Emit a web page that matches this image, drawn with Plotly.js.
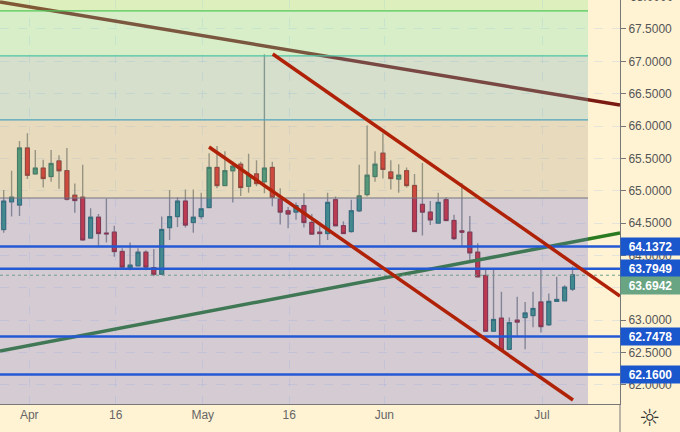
<!DOCTYPE html>
<html>
<head>
<meta charset="utf-8">
<script src="https://cdn.plot.ly/plotly-3.0.1.min.js"></script>
<style>html,body{margin:0;padding:0;background:#fff3d4;overflow:hidden}#c{width:680px;height:432px}</style>
</head>
<body>
<div id="c"></div>
<script>
var idx = [];
var open_ = [64.40,64.83,64.78,65.66,65.26,65.35,65.22,65.46,65.31,64.93,64.90,64.27,64.59,64.345,64.36,64.06,63.81,63.84,64.05,63.81,63.71,64.43,64.60,64.84,64.51,64.60,
64.74,65.36,65.08,65.31,65.41,65.07,65.26,65.14,65.36,64.87,64.69,64.67,64.77,64.51,64.36,64.34,64.86,64.46,64.37,64.69,64.94,65.22,65.58,65.29,65.18,65.31,65.08,
64.79,64.67,64.50,64.86,64.54,64.38,64.36,64.05,63.69,62.83,63.03,62.55,63.00,63.04,63.07,63.28,62.93,63.29,63.30,63.48];
var close_ = [64.84,64.90,65.66,65.24,65.35,65.19,65.42,65.31,64.87,64.85,64.24,64.59,64.34,64.335,64.06,63.82,63.85,64.05,63.82,63.71,64.40,64.60,64.84,64.47,64.59,64.72,
65.36,65.08,65.31,65.38,65.05,65.24,65.11,65.35,64.90,64.67,64.64,64.77,64.51,64.33,64.34,64.82,64.46,64.34,64.69,64.92,65.24,65.41,65.33,65.19,65.24,65.08,64.37,
64.67,64.55,64.82,64.54,64.26,64.36,64.04,63.67,62.83,63.01,62.54,62.96,62.97,63.11,63.18,62.90,63.29,63.32,63.51,63.70];
var high_ = [65.01,65.31,65.77,65.89,65.63,65.48,65.63,65.55,65.66,65.11,65.40,64.73,64.64,64.88,64.46,64.11,64.20,64.11,64.08,64.10,64.60,65.01,64.90,65.02,65.02,64.97,
65.58,65.69,65.61,65.45,65.45,65.57,65.47,67.11,65.45,65.04,64.75,64.82,64.96,64.64,64.45,64.97,64.91,64.53,64.86,65.40,66.01,65.61,65.89,65.47,65.41,65.36,65.26,
65.43,64.84,64.97,64.90,64.63,65.12,64.61,64.19,63.80,63.80,63.44,63.04,63.36,63.28,63.44,63.80,63.41,63.67,63.54,63.83];
var low_ = [64.35,64.60,64.61,65.18,65.26,65.05,65.14,65.03,64.85,64.66,64.24,64.27,64.15,64.20,63.98,63.82,63.77,63.83,63.77,63.68,63.70,64.24,64.44,64.43,64.35,64.56,
64.73,65.04,65.07,64.82,64.92,64.97,65.07,64.96,64.76,64.48,64.42,64.55,64.43,64.32,64.16,64.24,64.45,64.33,64.35,64.67,64.91,65.14,65.19,65.02,64.97,65.05,64.37,
64.31,64.47,64.50,64.53,64.24,64.15,63.93,63.66,62.82,62.82,62.54,62.54,62.74,62.55,62.89,62.81,62.91,63.29,63.29,63.45];
for (var n = 0; n < open_.length; n++) idx.push(n);

var tickPos = [3.24,14.18,25.19,36.15,48.18,68.14];
var tickText = ['Apr','16','May','16','Jun','Jul'];

var xLeft = -0.468, xRight = 78.01, zoneEnd = 73.96;
var yBottom = 61.704, yTop = 67.948;

var zoneLevels = [67.948,67.78,67.083,66.094,64.888,61.704];
var zoneFills = ['rgba(145,233,139,.3)','rgba(125,230,172,.3)','rgba(118,180,185,.3)','rgba(178,166,135,.3)','rgba(115,117,209,.3)'];
var zoneEdgeLevels = [67.78,67.083,66.094,64.888];
var zoneEdgeColors = ['#50c858','#4cc4a4','#4ea4bc','#747480'];

var priceLevels = [64.1372,63.7949,62.7478,62.16];
var priceLabels = ['64.1372','63.7949','62.7478','62.1600'];
var lastPrice = 63.6942;

var brownX = [-0.468,78.01], brownY = [67.917,66.325];
var greenX = [-0.468,78.01], greenY = [62.523,64.347];
var redUpperX = [34.05,78.01], redUpperY = [67.114,63.373];
var redLowerX = [25.99,72.06], redLowerY = [65.676,61.766];

var bodyHigh = open_.map(function(o,i){return Math.max(o,close_[i]);});
var bodyLow = open_.map(function(o,i){return Math.min(o,close_[i]);});

var wickStyle = {line:{color:'#8c8c80',width:1.4},fillcolor:'#8c8c80'};
var traces = [
  {type:'candlestick',x:idx,open:open_,close:close_,high:high_,low:low_,whiskerwidth:0,width:0.1,
   increasing:wickStyle,decreasing:wickStyle,hoverinfo:'skip'},
  {type:'candlestick',x:idx,open:open_,close:close_,high:bodyHigh,low:bodyLow,whiskerwidth:0,width:0.76,
   increasing:{line:{color:'#146a5c',width:1},fillcolor:'rgb(46,148,115)'},
   decreasing:{line:{color:'#8c1c1c',width:1},fillcolor:'rgb(220,35,30)'},hoverinfo:'skip'},
  {type:'scatter',mode:'lines',x:brownX,y:brownY,line:{color:'#7a1a10',width:3.5},hoverinfo:'skip'},
  {type:'scatter',mode:'lines',x:greenX,y:greenY,line:{color:'#2a7a20',width:3.5},hoverinfo:'skip'}
];

var shapes = [];
zoneFills.forEach(function(f,i){
  shapes.push({type:'rect',layer:'above',xref:'x',yref:'y',x0:xLeft,x1:zoneEnd,y0:zoneLevels[i+1],y1:zoneLevels[i],fillcolor:f,line:{width:0}});
});
zoneEdgeLevels.forEach(function(v,i){
  shapes.push({type:'line',layer:'above',xref:'x',yref:'y',x0:xLeft,x1:zoneEnd,y0:v,y1:v,line:{color:zoneEdgeColors[i],width:1.2}});
});
shapes.push({type:'line',layer:'above',xref:'x',yref:'y',x0:xLeft,x1:xRight,y0:lastPrice,y1:lastPrice,line:{color:'#6f9f8c',width:1,dash:'dot'}});
priceLevels.forEach(function(v){
  shapes.push({type:'line',layer:'above',xref:'x',yref:'y',x0:xLeft,x1:xRight,y0:v,y1:v,line:{color:'#2459d4',width:2.4}});
});
shapes.push({type:'line',layer:'above',xref:'x',yref:'y',x0:redUpperX[0],x1:redUpperX[1],y0:redUpperY[0],y1:redUpperY[1],line:{color:'#b02208',width:3.5}});
shapes.push({type:'line',layer:'above',xref:'x',yref:'y',x0:redLowerX[0],x1:redLowerX[1],y0:redLowerY[0],y1:redLowerY[1],line:{color:'#b02208',width:3.5}});
shapes.push({type:'line',xref:'paper',yref:'paper',x0:1,x1:1,y0:0,y1:-28/404,line:{color:'#777',width:1}});

var annos = [];
priceLevels.forEach(function(v,i){
  annos.push({xref:'paper',yref:'y',x:1,y:v,xanchor:'left',yanchor:'middle',xshift:0,showarrow:false,
    text:priceLabels[i],width:57,height:15,borderpad:1,bgcolor:'#1a56cc',align:'center',
    font:{family:'Liberation Sans',size:12,color:'#fff',weight:'bold'}});
});
annos.push({xref:'paper',yref:'y',x:1,y:lastPrice,xanchor:'left',yanchor:'middle',yshift:-10,showarrow:false,
  text:'63.6942',width:57,height:15,borderpad:1,bgcolor:'#6aa583',align:'center',
  font:{family:'Liberation Sans',size:12,color:'#fff',weight:'bold'}});
annos.push({xref:'paper',yref:'paper',x:1,y:1+3/404,xanchor:'left',yanchor:'middle',xshift:8,showarrow:false,
  text:'68.0000',font:{family:'Liberation Sans',size:12,color:'#555'}});
annos.push({xref:'paper',yref:'paper',x:650/620,y:-14/404,xanchor:'center',yanchor:'middle',showarrow:false,
  text:'☼',font:{family:'DejaVu Sans',size:24,color:'#333'}});

var layout = {
  width:680,height:432,margin:{l:0,r:60,t:0,b:28,pad:0},
  paper_bgcolor:'#fff3d4',plot_bgcolor:'#fff3d4',showlegend:false,
  font:{family:'Liberation Sans',size:12,color:'#555'},
  xaxis:{type:'linear',range:[xLeft,xRight],rangeslider:{visible:false},tickmode:'array',tickvals:tickPos,ticktext:tickText,
    showgrid:true,gridcolor:'rgba(150,185,235,.25)',griddash:'dash',gridwidth:1,zeroline:false,
    showline:true,linecolor:'#777',linewidth:1,ticks:'',tickfont:{size:12,color:'#666'}},
  yaxis:{side:'right',range:[yBottom,yTop],tick0:0,dtick:0.5,tickformat:'.4f',
    showgrid:true,gridcolor:'rgba(150,185,235,.25)',griddash:'dash',gridwidth:1,zeroline:false,
    showline:true,linecolor:'#777',linewidth:1,ticks:'outside',ticklen:5,tickcolor:'#777',tickfont:{size:12,color:'#555'}},
  shapes:shapes,annotations:annos
};
Plotly.newPlot('c',traces,layout,{displayModeBar:false,staticPlot:true});
</script>
</body>
</html>
